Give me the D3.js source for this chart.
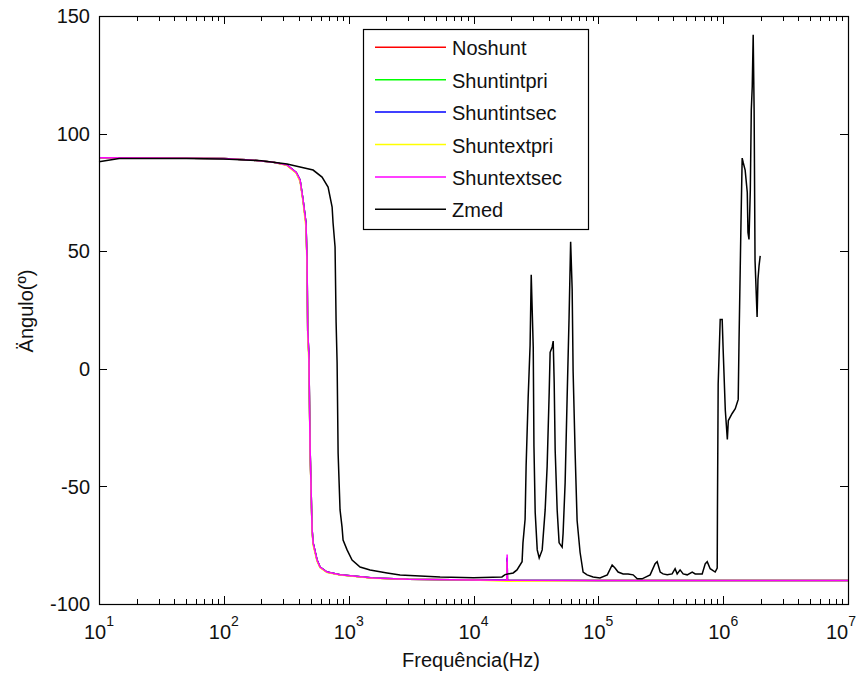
<!DOCTYPE html>
<html>
<head>
<meta charset="utf-8">
<script src="https://cdn.jsdelivr.net/npm/d3@7"></script>
<style>
body { margin: 0; background: #fff; }
text { font-family: "Liberation Sans", Arial, sans-serif; fill: #111; }
</style>
</head>
<body>
<div id="graph"></div>
<script>
var graph_width = 862;
var graph_height = 677;
var box = { left: 99, top: 16, right: 848, bottom: 604 };

// series names and colours, in drawing order
var seriesNames = ["Noshunt", "Shuntintpri", "Shuntintsec", "Shuntextpri", "Shuntextsec", "Zmed"];
var seriesColors = ["#ff0000", "#00ff00", "#0000ff", "#ffff00", "#ff00ff", "#000000"];

// frequencies (Hz) shared by the five shunt curves
var shuntFreq = [10, 30, 100, 163, 250, 321, 380, 408, 431, 455, 464, 470, 480, 491, 509, 519, 558, 590, 671, 853, 1570, 3000, 10000, 18500, 18600, 18700, 100000, 1000000, 10000000];
var noshunt     = [89.7, 89.6, 89.4, 88.8, 87.8, 86.6, 83.5, 80.3, 71.8, 62, 46, 16, 6, -34, -68, -74, -81.3, -84.3, -86.4, -87.6, -88.9, -89.5, -89.8, -89.9, -81, -89.9, -90, -90, -90];
var shuntintpri = [89.7, 89.6, 89.4, 88.8, 87.8, 86.6, 83.5, 80.3, 71.8, 62, 46, 16, 6, -34, -68, -74, -81.3, -84.3, -86.4, -87.6, -88.9, -89.5, -89.8, -89.9, -80.5, -89.9, -90, -90, -90];
var shuntintsec = [89.7, 89.6, 89.4, 88.8, 87.8, 86.6, 83.5, 80.3, 71.8, 62, 46, 16, 6, -34, -68, -74, -81.3, -84.3, -86.4, -87.6, -88.9, -89.5, -89.8, -89.9, -80.2, -89.9, -90, -90, -90];
var shuntextpri = [89.7, 89.6, 89.4, 88.8, 87.8, 86.4, 83.2, 79.6, 71.0, 60, 43, 13, 3, -36, -69, -75, -81.8, -84.6, -86.6, -87.7, -89.0, -89.5, -89.8, -90.3, -82, -90.3, -90, -90, -90];
var shuntextsec = [89.7, 89.6, 89.4, 88.8, 87.8, 86.6, 83.5, 80.3, 71.8, 62, 46, 16, 6, -34, -68, -74, -81.3, -84.3, -86.4, -87.6, -88.9, -89.5, -89.8, -89.9, -79, -89.9, -90, -90, -90];

// measured impedance angle
var zmedFreq = [10, 14.5, 50, 100, 200, 321, 408, 519, 612, 684, 737, 750, 778, 793, 808, 823, 853, 885, 902, 971, 1065, 1234, 1484, 2031, 2582, 5400, 10000, 16900, 17900, 20800, 22300, 24500, 24900, 25900, 26400, 27400, 28400, 29000, 30100, 30500, 31200, 32400, 33600, 35500, 37500, 38900, 40400, 41100, 42700, 43500, 44300, 45100, 46800, 48500, 51300, 52200, 54200, 56200, 58300, 60000, 61700, 62800, 65200, 67600, 71400, 75500, 81300, 90800, 103000, 118000, 129000, 136000, 144000, 158000, 173000, 190000, 205000, 224000, 260000, 285000, 296000, 313000, 330000, 356000, 390000, 412000, 428000, 452000, 478000, 515000, 565000, 597000, 679000, 718000, 745000, 787000, 863000, 896000, 900000, 912000, 947000, 982000, 1000000, 1040000, 1080000, 1100000, 1180000, 1250000, 1320000, 1340000, 1390000, 1420000, 1450000, 1500000, 1560000, 1580000, 1610000, 1650000, 1680000, 1710000, 1740000, 1770000, 1800000, 1870000, 1900000, 1940000, 1980000];
var zmed     = [88.0, 89.4, 89.4, 89.2, 88.5, 87.1, 85.8, 84.5, 81.5, 77.3, 68.8, 62, 51.8, 20, 2.5, -35.8, -60, -67.3, -72.8, -77, -81.3, -84.3, -85.5, -86.8, -87.7, -88.5, -88.8, -88.5, -87.5, -86.8, -85.5, -82, -74, -64, -41, -12.5, 10, 40, 9, -33, -61, -77, -80.4, -77, -60, -41.5, -10, 7, 9.3, 11.8, -6, -34.5, -60, -74, -75.8, -70, -48.5, -13, 22, 54, 34, -1, -36, -64.5, -78, -86.4, -87.6, -88.5, -88.9, -87.6, -83.4, -84.7, -86.4, -87.2, -87.2, -87.6, -89.3, -89.3, -87.6, -82.9, -82, -86.4, -87.2, -87.6, -87.2, -85, -87.2, -85.5, -87.2, -87.6, -86.4, -87.2, -87.2, -82.9, -82, -85, -86.4, -84.7, -60, -6.5, 21, 21, 8, -17.5, -30, -22, -19, -17, -13, 12, 63, 89.6, 87.5, 84.5, 75, 58, 55, 76, 110, 120, 142, 110, 46, 22, 38, 44, 48];

var yTicks = [-100, -50, 0, 50, 100, 150];
var xDecades = [1, 2, 3, 4, 5, 6, 7];

var graph = null;
var x = null;
var y = null;

function initGraph()
{
	graph = d3.select('#graph')
			.append('svg')
			.attr('width', graph_width)
			.attr('height', graph_height);

	x = d3.scaleLog().domain([10, 1e7]).range([box.left, box.right]);
	y = d3.scaleLinear().domain([-100, 150]).range([box.bottom, box.top]);
}

function drawAxes()
{
	var g = graph.append('g').attr('class', 'axes');

	// major and minor ticks on bottom and top
	var minor = [];
	xDecades.forEach(function(e) {
		if (e < 7) {
			for (var m = 2; m <= 9; m++) minor.push(m * Math.pow(10, e));
		}
	});
	minor.forEach(function(f) {
		var px = Math.round(x(f)) + 0.5;
		g.append('line').attr('x1', px).attr('x2', px).attr('y1', box.bottom).attr('y2', box.bottom - 5)
			.attr('style', 'stroke:#000;stroke-width:1');
		g.append('line').attr('x1', px).attr('x2', px).attr('y1', box.top).attr('y2', box.top + 5)
			.attr('style', 'stroke:#000;stroke-width:1');
	});
	xDecades.forEach(function(e) {
		var px = Math.round(x(Math.pow(10, e))) + 0.5;
		g.append('line').attr('x1', px).attr('x2', px).attr('y1', box.bottom).attr('y2', box.bottom - 8)
			.attr('style', 'stroke:#000;stroke-width:1');
		g.append('line').attr('x1', px).attr('x2', px).attr('y1', box.top).attr('y2', box.top + 8)
			.attr('style', 'stroke:#000;stroke-width:1');
		// last label is kept inside the window
		var lx = x(Math.pow(10, e)) - (e == 7 ? 7 : 0);
		var t = g.append('text')
			.attr('x', lx)
			.attr('y', 639)
			.attr('text-anchor', 'middle')
			.style('font-size', '20px');
		t.append('tspan').text('10');
		t.append('tspan').attr('dy', -13).style('font-size', '14px').text(e);
	});

	yTicks.forEach(function(v) {
		var py = Math.round(y(v)) + 0.5;
		g.append('line').attr('x1', box.left).attr('x2', box.left + 8).attr('y1', py).attr('y2', py)
			.attr('style', 'stroke:#000;stroke-width:1');
		g.append('line').attr('x1', box.right).attr('x2', box.right - 8).attr('y1', py).attr('y2', py)
			.attr('style', 'stroke:#000;stroke-width:1');
		g.append('text')
			.attr('x', 90)
			.attr('y', y(v))
			.attr('dy', '0.36em')
			.attr('text-anchor', 'end')
			.style('font-size', '20px')
			.text(v);
	});

	g.append('rect')
		.attr('x', box.left + 0.5)
		.attr('y', box.top + 0.5)
		.attr('width', box.right - box.left)
		.attr('height', box.bottom - box.top)
		.attr('style', 'fill:none;stroke:#000;stroke-width:1.2');

	g.append('text')
		.attr('x', 471)
		.attr('y', 667)
		.attr('text-anchor', 'middle')
		.style('font-size', '20px')
		.text('Frequência(Hz)');

	g.append('text')
		.attr('transform', 'translate(33,311) rotate(-90)')
		.attr('text-anchor', 'middle')
		.style('font-size', '20px')
		.text('Ängulo(º)');
}

function drawLines()
{
	var line = d3.line()
		.x(function(d) { return x(d[0]); })
		.y(function(d) { return y(d[1]); });

	var series = [
		d3.zip(shuntFreq, noshunt),
		d3.zip(shuntFreq, shuntintpri),
		d3.zip(shuntFreq, shuntintsec),
		d3.zip(shuntFreq, shuntextpri),
		d3.zip(shuntFreq, shuntextsec),
		d3.zip(zmedFreq, zmed)
	];

	for (var i = 0; i < series.length; i++)
	{
		graph.append('path')
			.datum(series[i])
			.attr('d', line)
			.attr('style', 'fill:none;stroke:' + seriesColors[i] + ';stroke-width:1.5');
	}
}

function drawLegend()
{
	var lg = graph.append('g').attr('class', 'legend');
	lg.append('rect')
		.attr('x', 363.5)
		.attr('y', 29.5)
		.attr('width', 225)
		.attr('height', 200)
		.attr('style', 'fill:#fff;stroke:#000;stroke-width:1.2');

	for (var i = 0; i < seriesNames.length; i++)
	{
		var ry = 47.3 + i * 32.4;
		lg.append('line')
			.attr('x1', 375).attr('x2', 446)
			.attr('y1', ry).attr('y2', ry)
			.attr('style', 'stroke:' + seriesColors[i] + ';stroke-width:1.5');
		lg.append('text')
			.attr('x', 452)
			.attr('y', ry + 8)
			.style('font-size', '20px')
			.text(seriesNames[i]);
	}
}

initGraph();
drawLines();
drawAxes();
drawLegend();
</script>
</body>
</html>
